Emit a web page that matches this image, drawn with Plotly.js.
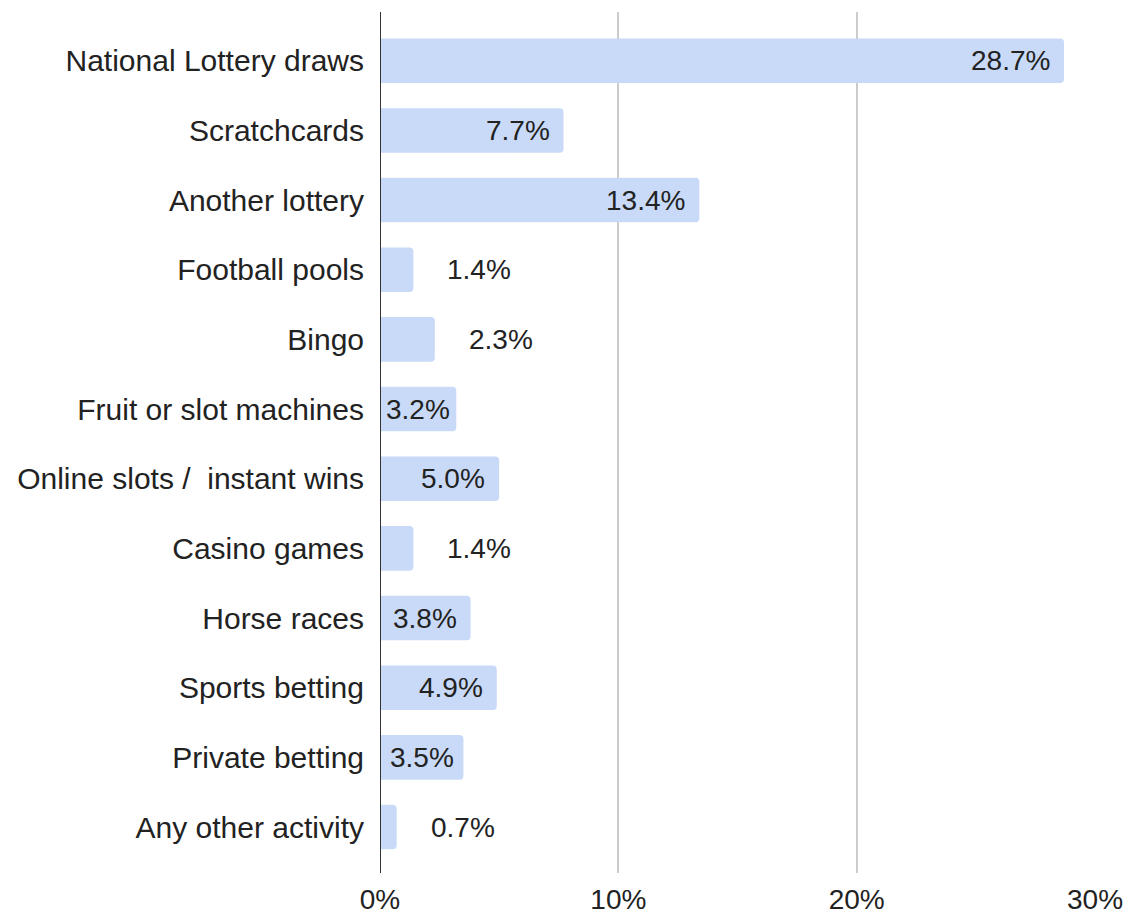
<!DOCTYPE html>
<html>
<head>
<meta charset="utf-8">
<script src="https://cdn.plot.ly/plotly-3.0.1.min.js"></script>
<style>html,body{margin:0;padding:0;background:#fff;}#chart{width:1129px;height:916px;}</style>
</head>
<body>
<div id="chart"></div>
<script>
const categories = [
  "National Lottery draws",
  "Scratchcards",
  "Another lottery",
  "Football pools",
  "Bingo",
  "Fruit or slot machines",
  "Online slots /\u00a0 instant wins",
  "Casino games",
  "Horse races",
  "Sports betting",
  "Private betting",
  "Any other activity"
];
const values = [28.7, 7.7, 13.4, 1.4, 2.3, 3.2, 5.0, 1.4, 3.8, 4.9, 3.5, 0.7];
const labels = ["28.7%", "7.7%", "13.4%", "1.4%", "2.3%", "3.2%", "5.0%", "1.4%", "3.8%", "4.9%", "3.5%", "0.7%"];
const tickVals = [0, 10, 20, 30];
const tickText = ["0%", "10%", "20%", "30%"];

const W = 1129, H = 916;
const mL = 380, mR = 34, mT = 12, mB = 43;
const xMax = 30;
const pxPerUnit = (W - mL - mR) / xMax;
const FONT = "Liberation Sans, Arial, sans-serif";
const textColor = "#222222";

const annotations = values.map((v, i) => {
  const barPx = v * pxPerUnit;
  const inside = v >= 3;
  const shift = inside ? -Math.min(12, Math.max(3, (barPx - 68) / 2)) : 32;
  return {
    x: v, y: categories[i], xref: "x", yref: "y",
    text: labels[i], showarrow: false,
    xanchor: inside ? "right" : "left", yanchor: "middle",
    xshift: shift,
    font: {family: FONT, size: 28, color: textColor}
  };
});

const trace = {
  type: "bar",
  orientation: "h",
  x: values,
  y: categories,
  width: 0.64,
  marker: {color: "#c9daf8", cornerradius: 4},
  hoverinfo: "none"
};

const layout = {
  width: W, height: H,
  margin: {l: mL, r: mR, t: mT, b: mB, pad: 0},
  paper_bgcolor: "#ffffff",
  plot_bgcolor: "#ffffff",
  showlegend: false,
  font: {family: FONT, size: 28, color: textColor},
  xaxis: {
    range: [0, xMax],
    tickvals: tickVals,
    ticktext: tickText,
    showgrid: true,
    gridcolor: "#cccccc",
    gridwidth: 2,
    zeroline: false,
    showline: false,
    ticks: "outside",
    ticklen: 1,
    tickcolor: "rgba(0,0,0,0)",
    tickfont: {family: FONT, size: 28, color: textColor},
    fixedrange: true
  },
  yaxis: {
    type: "category",
    range: [11.66, -0.70],
    showgrid: false,
    zeroline: false,
    showline: false,
    ticks: "outside",
    ticklen: 9,
    tickcolor: "rgba(0,0,0,0)",
    tickfont: {family: FONT, size: 30, color: textColor},
    fixedrange: true
  },
  shapes: [{
    type: "line", xref: "x", yref: "paper",
    x0: 0, x1: 0, y0: 0, y1: 1,
    line: {color: "#333333", width: 2}
  }],
  annotations: annotations
};

Plotly.newPlot("chart", [trace], layout, {displayModeBar: false, staticPlot: true});
</script>
</body>
</html>
